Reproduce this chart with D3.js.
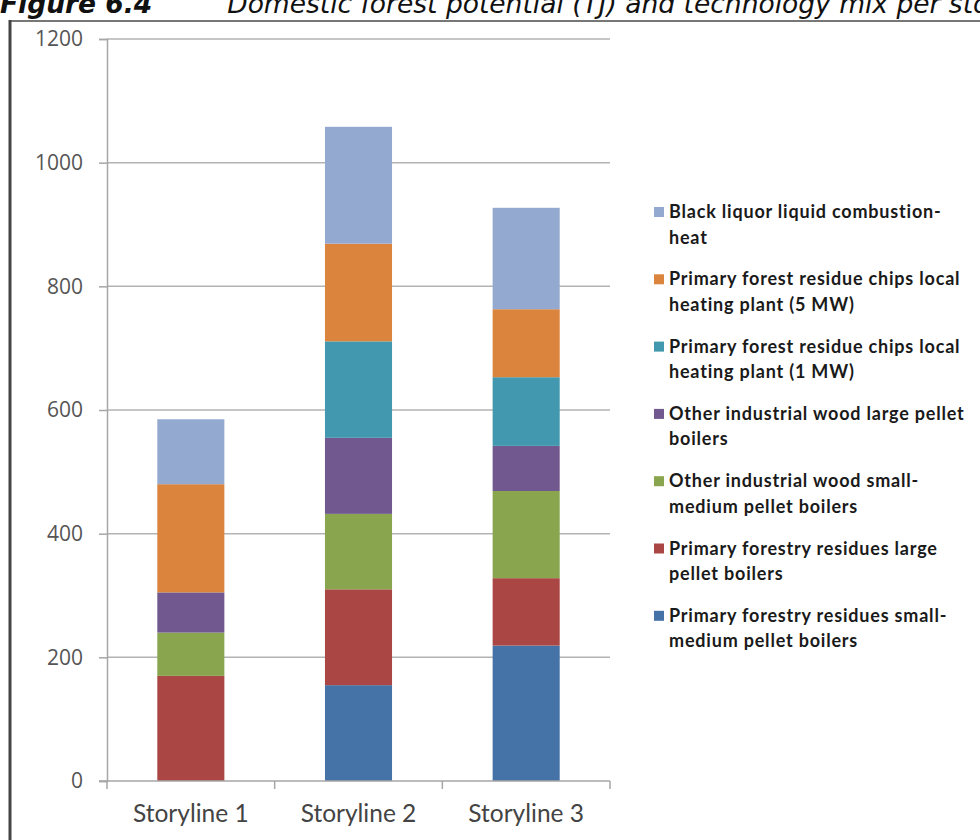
<!DOCTYPE html>
<html>
<head>
<meta charset="utf-8">
<script src="https://cdn.jsdelivr.net/npm/d3@7/dist/d3.min.js"></script>
<style>
  html, body { margin: 0; padding: 0; background: #fff; }
  svg { display: block; }
</style>
</head>
<body>
<svg id="chart" width="980" height="840"></svg>
<script>
// Storylines on the x axis
const categories = ["Storyline 1", "Storyline 2", "Storyline 3"];

// Stacked series, bottom to top (TJ)
const seriesNames = [
  "Primary forestry residues small-medium pellet boilers",
  "Primary forestry residues large pellet boilers",
  "Other industrial wood small-medium pellet boilers",
  "Other industrial wood large pellet boilers",
  "Primary forest residue chips local heating plant (1 MW)",
  "Primary forest residue chips local heating plant (5 MW)",
  "Black liquor liquid combustion-heat"
];
const residuesSmall   = [0, 155, 219];
const residuesLarge   = [170, 155, 109];
const industrialSmall = [70, 122, 141];
const industrialLarge = [65, 123, 73];
const chips1MW        = [0, 156, 111];
const chips5MW        = [175, 158, 110];
const blackLiquor     = [105, 189, 164];

// Legend entries as they are wrapped on two lines
const legendLines = [
  ["Black liquor liquid combustion-", "heat"],
  ["Primary forest residue chips local", "heating plant (5 MW)"],
  ["Primary forest residue chips local", "heating plant (1 MW)"],
  ["Other industrial wood large pellet", "boilers"],
  ["Other industrial wood small-", "medium pellet boilers"],
  ["Primary forestry residues large", "pellet boilers"],
  ["Primary forestry residues small-", "medium pellet boilers"]
];

const yTicks = [0, 200, 400, 600, 800, 1000, 1200];
const colors = ["#4572A7", "#AA4643", "#89A54E", "#71588F", "#4198AF", "#DB843D", "#93A9CF"];

const seriesValues = [residuesSmall, residuesLarge, industrialSmall, industrialLarge, chips1MW, chips5MW, blackLiquor];
const rows = categories.map((c, i) => {
  const r = { category: c };
  seriesNames.forEach((s, k) => { r[s] = seriesValues[k][i]; });
  return r;
});

const svg = d3.select("#chart");

// Caption running above the frame
const cap = svg.append("text")
  .attr("x", 0).attr("y", 13)
  .attr("font-family", "DejaVu Sans")
  .attr("font-style", "italic")
  .attr("font-size", 26.5)
  .attr("fill", "#111");
cap.append("tspan").attr("font-weight", "bold").text("Figure 6.4");
cap.append("tspan").attr("dx", 75).text("Domestic forest potential (TJ) and technology mix per storyline");

// Frame
svg.append("line").attr("x1", 10).attr("x2", 980).attr("y1", 21).attr("y2", 21)
  .attr("stroke", "#777").attr("stroke-width", 2);
svg.append("line").attr("x1", 10).attr("x2", 10).attr("y1", 20).attr("y2", 840)
  .attr("stroke", "#444").attr("stroke-width", 3);

const plot = { left: 107, right: 610, top: 39, bottom: 781 };

const x = d3.scaleBand().domain(categories).range([plot.left, plot.right]).paddingInner(0.6).paddingOuter(0.3);
const y = d3.scaleLinear().domain([0, 1200]).range([plot.bottom, plot.top]);

// Gridlines
svg.append("g")
  .selectAll("line")
  .data(yTicks.filter(t => t > 0))
  .join("line")
  .attr("x1", plot.left).attr("x2", plot.right)
  .attr("y1", d => y(d)).attr("y2", d => y(d))
  .attr("stroke", "#b3b3b3").attr("stroke-width", 1.5);

// Y axis
const yAxis = svg.append("g")
  .attr("transform", `translate(${plot.left},0)`)
  .call(d3.axisLeft(y).tickValues(yTicks).tickSize(8).tickPadding(16).tickFormat(d3.format("d")));
yAxis.select(".domain").attr("stroke", "#a6a6a6").attr("stroke-width", 1.5);
yAxis.selectAll(".tick line").attr("stroke", "#a6a6a6").attr("stroke-width", 1.5);
yAxis.selectAll(".tick text")
  .attr("font-family", "Open Sans").attr("font-size", 21).attr("fill", "#555");

// Stacked bars
const stack = d3.stack().keys(seriesNames);
const layers = stack(rows);
svg.append("g")
  .selectAll("g")
  .data(layers)
  .join("g")
  .attr("fill", (d, i) => colors[i])
  .selectAll("rect")
  .data(d => d)
  .join("rect")
  .attr("x", d => x(d.data.category))
  .attr("width", x.bandwidth())
  .attr("y", d => y(d[1]))
  .attr("height", d => y(d[0]) - y(d[1]));

// X axis with ticks between categories
const span = plot.right - plot.left;
const bounds = [0, 1, 2, 3].map(k => plot.left + k * span / 3);
const xg = svg.append("g");
xg.append("line").attr("x1", plot.left - 8).attr("x2", plot.right)
  .attr("y1", plot.bottom).attr("y2", plot.bottom)
  .attr("stroke", "#a6a6a6").attr("stroke-width", 1.5);
xg.selectAll("line.tk").data(bounds).join("line").attr("class", "tk")
  .attr("x1", d => d).attr("x2", d => d)
  .attr("y1", plot.bottom).attr("y2", plot.bottom + 8)
  .attr("stroke", "#a6a6a6").attr("stroke-width", 1.5);
xg.selectAll("text").data(categories).join("text")
  .attr("x", d => x(d) + x.bandwidth() / 2)
  .attr("y", 822)
  .attr("text-anchor", "middle")
  .attr("font-family", "Lato").attr("font-size", 24.5).attr("fill", "#444")
  .text(d => d);

// Legend, top entry first
const legend = svg.append("g");
legendLines.forEach((lines, i) => {
  const cy = 212 + i * 67.3;
  const colorIndex = colors.length - 1 - i;
  legend.append("rect")
    .attr("x", 654).attr("y", cy - 5).attr("width", 10).attr("height", 10)
    .attr("fill", colors[colorIndex]);
  const t = legend.append("text")
    .attr("font-family", "Lato").attr("font-weight", "bold")
    .attr("font-size", 18).attr("letter-spacing", 0.8).attr("fill", "#1a1a1a");
  lines.forEach((ln, j) => {
    t.append("tspan").attr("x", 669).attr("y", cy + 6 + j * 25.5).text(ln);
  });
});
</script>
</body>
</html>
